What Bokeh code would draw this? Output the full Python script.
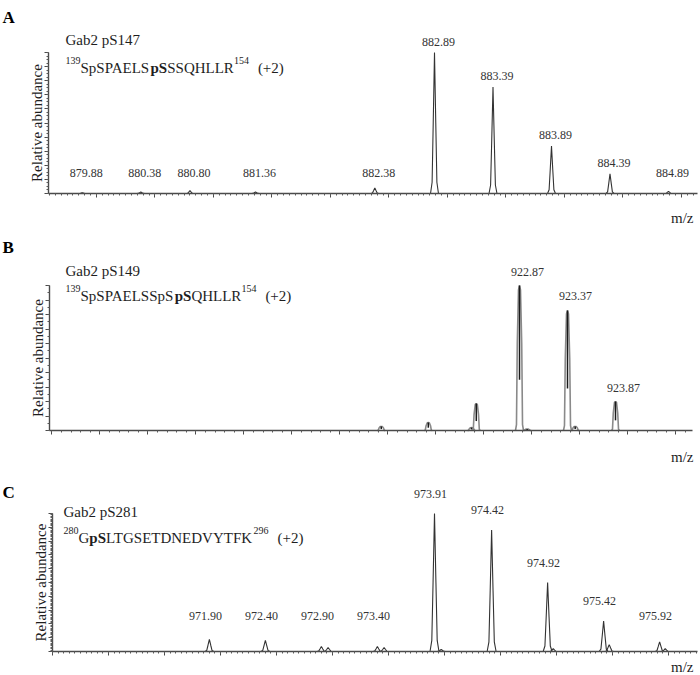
import numpy as np
from bokeh.plotting import figure
from bokeh.models import (Label, LabelSet, ColumnDataSource, FixedTicker,
                          CustomJSTickFormatter, Range1d)
from bokeh.layouts import column
from bokeh.embed import file_html
from bokeh.resources import INLINE
from bokeh.core.properties import value

# ---------------- data ----------------
# Panel A  Gab2 pS147
a_mz = [879.88, 880.38, 880.80, 881.36, 882.38, 882.89, 883.39, 883.89, 884.39, 884.89]
a_int = [0.6, 1.0, 2.0, 1.0, 4.0, 100.0, 75.5, 33.6, 14.0, 1.5]
a_label_mz = [879.88, 880.38, 880.80, 881.36, 882.38, 882.89, 883.39, 883.89, 884.39, 884.89]

# Panel B  Gab2 pS149
b_mz = [921.43, 921.92, 922.37, 922.42, 922.87, 922.95, 923.37, 923.45, 923.87]
b_int = [2.8, 5.5, 2.0, 18.6, 100.0, 1.0, 82.8, 2.8, 20.0]
b_label_mz = [922.87, 923.37, 923.87]

# Panel C  Gab2 pS281
c_mz = [971.90, 972.40, 972.90, 972.96, 973.40, 973.46, 973.91, 973.97,
        974.42, 974.92, 974.97, 975.42, 975.47, 975.92, 975.97]
c_int = [8.7, 8.0, 3.6, 2.9, 3.6, 2.9, 100.0, 1.5,
         88.0, 50.0, 2.0, 22.0, 5.0, 7.0, 2.0]
c_label_mz = [971.90, 972.40, 972.90, 973.40, 973.91, 974.42, 974.92, 975.42, 975.92]

panel_letters = ["A", "B", "C"]
titles = ["Gab2 pS147", "Gab2 pS149", "Gab2 pS281"]
peptides = [
    [("139", "sup"), ("SpSPAELS", "n"), ("pS", "b"), ("SSQHLLR", "n"), ("154", "sup"), ("(+2)", "gap")],
    [("139", "sup"), ("SpSPAELSSpS", "n"), ("pS", "b"), ("QHLLR", "n"), ("154", "sup"), ("(+2)", "gap")],
    [("280", "sup"), ("G", "n"), ("pS", "b"), ("LTGSETDNEDVYTFK", "n"), ("296", "sup"), ("(+2)", "gap")],
]
x_label = "m/z"
y_label = "Relative abundance"

SERIF = "Liberation Serif"
INK = "#1e1e1e"
W = 700

# Times / Liberation Serif advance widths (per 1000 em)
TN = {c: 500 for c in "0123456789"}
TN.update({'S': 556, 'p': 500, 'P': 556, 'A': 722, 'E': 611, 'L': 611, 'Q': 722,
           'H': 722, 'R': 667, 'G': 722, 'T': 611, 'D': 722, 'N': 722, 'V': 722,
           'Y': 722, 'F': 556, 'K': 722, ' ': 250, '(': 333, '+': 564, ')': 333})
TB = dict(TN)
TB.update({'p': 556, 'S': 556})


def text_width(txt, size, bold=False):
    tab = TB if bold else TN
    return sum(tab.get(ch, 550) for ch in txt) * size / 1000.0


def peak_shapes(mz, inten, w, fx, fy):
    xs, ys = [], []
    for m, h in zip(mz, inten):
        xs.append([m + f * w for f in fx])
        ys.append([h * g for g in fy])
    return xs, ys


def make_panel(i, mz, inten, label_mz, ref_mz, ref_px, px_per_unit, axis_px, axis_end_px,
               height, top_px, base_px, yminor_step, xminor_step, peak_w,
               label_dx, label_dy, label_floor, letter_y, title_y, pep_y, mz_y, text_x,
               style="thin"):
    # frame covers the whole figure; axes are placed with fixed_location
    x0 = ref_mz + (0 - ref_px) / px_per_unit
    x1 = ref_mz + (W - ref_px) / px_per_unit
    ax_start = ref_mz + (axis_px - ref_px) / px_per_unit
    ax_end = ref_mz + (axis_end_px - ref_px) / px_per_unit
    s = (base_px - top_px) / 100.0
    y0 = -(height - base_px) / s
    y1 = base_px / s

    p = figure(width=W, height=height, x_range=Range1d(x0, x1), y_range=Range1d(y0, y1),
               output_backend="svg", toolbar_location=None, tools="",
               min_border=0, min_border_left=0, min_border_right=0,
               min_border_top=0, min_border_bottom=0)
    p.outline_line_color = None
    p.xgrid.visible = False
    p.ygrid.visible = False
    p.background_fill_color = "white"
    p.border_fill_color = "white"

    xt = np.arange(np.ceil(ax_start * 2) / 2, ax_end, 0.5)
    xm = np.arange(np.ceil(ax_start / xminor_step) * xminor_step, ax_end, xminor_step)
    p.xaxis.ticker = FixedTicker(ticks=list(xt), minor_ticks=list(xm))
    p.yaxis.ticker = FixedTicker(ticks=list(np.arange(0, 101, 10)),
                                 minor_ticks=list(np.arange(0, 101, yminor_step)))
    p.xaxis.fixed_location = 0
    p.xaxis.bounds = (ax_start, ax_end)
    p.yaxis.fixed_location = ax_start
    p.yaxis.bounds = (0, 100)
    for ax in (p.xaxis[0], p.yaxis[0]):
        ax.formatter = CustomJSTickFormatter(code="return ''")
        ax.major_label_standoff = 0
        ax.axis_line_color = "#4a4a4a"
        ax.axis_line_width = 1.4
        ax.major_tick_line_color = "#4a4a4a"
        ax.minor_tick_line_color = "#5a5a5a"
        ax.major_tick_in = 0
        ax.minor_tick_in = 0
        ax.major_tick_out = 4
        ax.minor_tick_out = 2
    p.yaxis.axis_label = y_label
    p.yaxis.axis_label_standoff = 0
    p.yaxis.axis_label_text_font = SERIF
    p.yaxis.axis_label_text_font_size = "15px"
    p.yaxis.axis_label_text_font_style = "normal"
    p.yaxis.axis_label_text_color = INK

    # peaks
    if style == "thin":
        fx = [-1, -0.6, -0.32, 0, 0.32, 0.6, 1]
        fy = [0, 0.08, 0.5, 1, 0.5, 0.08, 0]
        xs, ys = peak_shapes(mz, inten, peak_w, fx, fy)
        p.multi_line(xs, ys, line_color="#333333", line_width=1.1)
    else:
        fx = [-1, -0.75, -0.55, -0.25, 0, 0.25, 0.55, 0.75, 1]
        fy = [0, 0.04, 0.6, 0.97, 1, 0.97, 0.6, 0.04, 0]
        xs, ys = peak_shapes(mz, inten, peak_w, fx, fy)
        p.multi_line(xs, ys, line_color="#8a8a8a", line_width=1.6)
        cx = [[m, m] for m in mz]
        cy = [[h * 0.35, h] for h in inten]
        p.multi_line(cx, cy, line_color="#1a1a1a", line_width=1.5)

    # peak labels
    lab_h = [max(inten[mz.index(m)], label_floor) for m in label_mz]
    src = ColumnDataSource(dict(x=label_mz, y=lab_h, t=[f"{m:.2f}" for m in label_mz]))
    p.add_layout(LabelSet(x="x", y="y", text="t", source=src, x_offset=label_dx,
                          y_offset=label_dy, text_font=value(SERIF),
                          text_font_size=value("12px"), text_color="#333333",
                          text_align="center", text_baseline="alphabetic"))

    # panel letter, title, peptide, m/z (screen units, frame == figure)
    p.add_layout(Label(x=2, y=letter_y, x_units="screen", y_units="screen",
                       text=panel_letters[i], text_font=SERIF, text_font_size="17px",
                       text_font_style="bold", text_color="#000000",
                       text_baseline="alphabetic"))
    p.add_layout(Label(x=text_x, y=title_y, x_units="screen", y_units="screen",
                       text=titles[i], text_font=SERIF, text_font_size="15px",
                       text_color=INK, text_baseline="alphabetic"))
    x = text_x
    for txt, kind in peptides[i]:
        if kind == "sup":
            size, bold, dy = 10, False, 7
        elif kind == "b":
            size, bold, dy = 15, True, 0
        elif kind == "gap":
            x += 9
            size, bold, dy = 15, False, 0
        else:
            size, bold, dy = 15, False, 0
        p.add_layout(Label(x=x, y=pep_y + dy, x_units="screen", y_units="screen",
                           text=txt, text_font=SERIF, text_font_size=f"{size}px",
                           text_font_style="bold" if bold else "normal",
                           text_color=INK, text_baseline="alphabetic"))
        x += text_width(txt, size, bold)

    p.add_layout(Label(x=693, y=mz_y, x_units="screen", y_units="screen",
                       text=x_label, text_font=SERIF, text_font_size="15px",
                       text_color=INK, text_align="right", text_baseline="alphabetic"))
    return p


# figure A spans page y 0..226, B 226..466, C 466..675 (local coords below)
pA = make_panel(0, a_mz, a_int, a_label_mz, 882.89, 434, 117.0, 48, 697,
                226, 52, 193, 2.5, 0.05, 0.034, 4, 7, 7.0,
                209, 187, 159, 9, 65, "thin")
pB = make_panel(1, b_mz, b_int, b_label_mz, 922.87, 519, 96.0, 49, 692,
                240, 59, 204, 5, 0.1, 0.042, 8, 10, 0.0,
                219, 196, 171, 10, 65, "thick")
pC = make_panel(2, c_mz, c_int, c_label_mz, 973.91, 434, 112.0, 52, 697,
                209, 47, 185, 1, 0.05, 0.04, -4, 16, 11.2,
                183, 164, 138, 9, 63, "thin")

layout = column(pA, pB, pC, spacing=0)
open("out.html", "w").write(file_html(layout, INLINE))
